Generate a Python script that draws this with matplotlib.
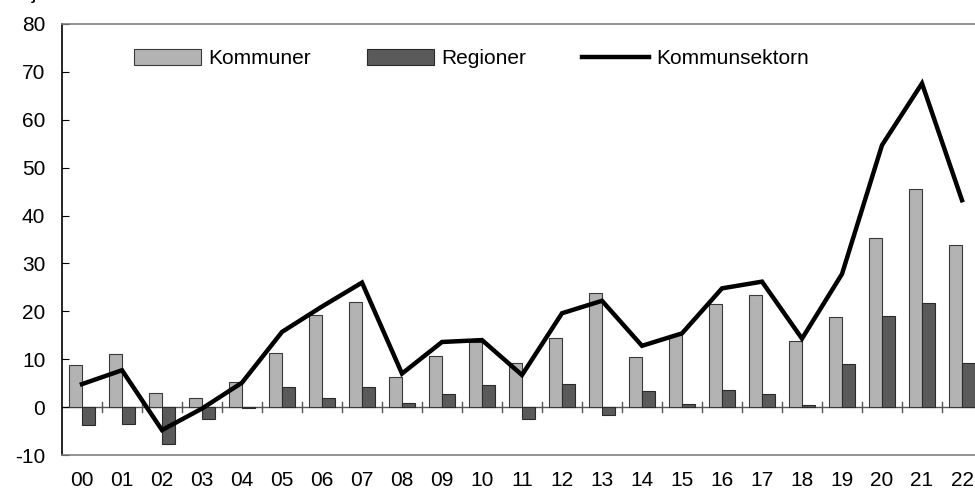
import numpy as np
import matplotlib
matplotlib.use('Agg')
import matplotlib.pyplot as plt

plt.rcParams['font.family'] = ['Liberation Sans', 'DejaVu Sans']
plt.rcParams['axes.unicode_minus'] = False

# Data
years = ['00', '01', '02', '03', '04', '05', '06', '07', '08', '09', '10', '11',
         '12', '13', '14', '15', '16', '17', '18', '19', '20', '21', '22']
kommuner = [8.7, 11.1, 3.0, 2.0, 5.2, 11.3, 19.3, 22.0, 6.2, 10.7, 13.5, 9.3,
            14.5, 23.9, 10.5, 15.0, 21.6, 23.5, 13.8, 18.8, 35.3, 45.6, 33.8]
regioner = [-3.8, -3.5, -7.6, -2.4, -0.2, 4.3, 2.0, 4.1, 0.9, 2.8, 4.7, -2.5,
            4.9, -1.7, 3.3, 0.7, 3.5, 2.7, 0.5, 8.9, 19.1, 21.8, 9.3]
kommunsektorn = [4.8, 7.7, -4.8, -0.3, 5.1, 15.7, 21.0, 26.0, 7.0, 13.6, 14.0, 6.7,
                 19.6, 22.2, 12.8, 15.4, 24.8, 26.2, 14.3, 27.8, 54.7, 67.6, 43.2]

x = np.arange(len(years))
w = 0.32

fig = plt.figure(figsize=(9.75, 4.9), dpi=100)
# axes extends a bit past the right edge, as in the original crop
ax = fig.add_axes([62 / 975, 35 / 490, 920 / 975, 431 / 490])

b1 = ax.bar(x - w / 2, kommuner, w, color='#b3b3b3', edgecolor='#3a3a3a', linewidth=0.8,
            label='Kommuner', zorder=2)
b2 = ax.bar(x + w / 2, regioner, w, color='#5a5a5a', edgecolor='#2a2a2a', linewidth=0.8,
            label='Regioner', zorder=2)
l1, = ax.plot(x, kommunsektorn, color='black', linewidth=3.2, label='Kommunsektorn',
              zorder=3, solid_joinstyle='miter')

# zero line with small ticks between categories
ax.axhline(0, color='#555555', linewidth=1.0, zorder=1)
for b in np.arange(0.5, len(years) - 0.5, 1):
    ax.plot([b, b], [-1.0, 1.0], color='#555555', linewidth=1.0, zorder=1)

ax.set_xlim(-0.5, len(years) - 0.5)
ax.set_ylim(-10, 80)
ax.set_yticks(np.arange(-10, 81, 10))
ax.set_xticks(x)
ax.set_xticklabels(years)
ax.tick_params(axis='y', direction='in', length=5, labelsize=15, pad=12)
ax.tick_params(axis='x', length=0, labelsize=15, pad=11.5)

ax.spines['right'].set_visible(False)
ax.spines['left'].set_color('black')
ax.spines['left'].set_linewidth(1.2)
ax.spines['top'].set_color('#808080')
ax.spines['bottom'].set_color('#808080')
ax.spines['top'].set_linewidth(1.2)
ax.spines['bottom'].set_linewidth(1.2)

ax.legend([b1, b2, l1], ['Kommuner', 'Regioner', 'Kommunsektorn'],
          loc='upper left', bbox_to_anchor=(0.058, 0.985), ncol=3, frameon=False,
          fontsize=15, handlelength=3.2, handleheight=0.8, columnspacing=2.7,
          handletextpad=0.35)

fig.text(5 / 975, 1 + 1.5 / 490, 'Miljarder kronor', fontsize=15, ha='left',
         va='baseline')

fig.savefig('out.png', dpi=100)
